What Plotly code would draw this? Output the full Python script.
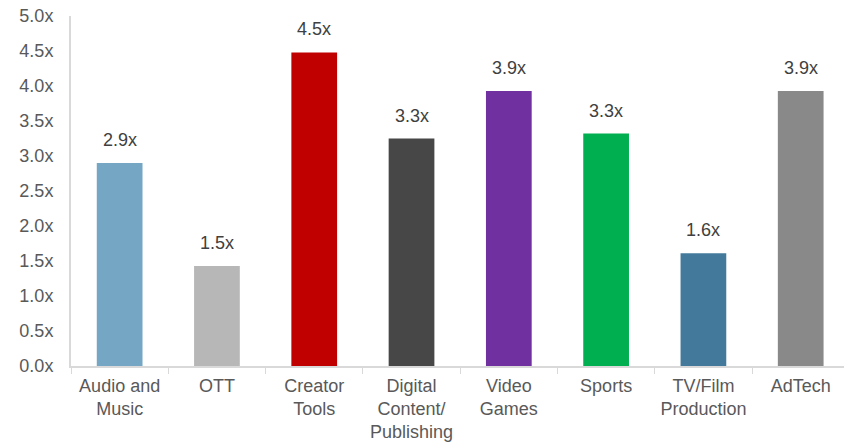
import plotly.graph_objects as go

categories = ["Audio and<br>Music", "OTT", "Creator<br>Tools", "Digital<br>Content/<br>Publishing",
              "Video<br>Games", "Sports", "TV/Film<br>Production", "AdTech"]
values = [2.90, 1.43, 4.48, 3.25, 3.93, 3.32, 1.61, 3.93]
labels = ["2.9x", "1.5x", "4.5x", "3.3x", "3.9x", "3.3x", "1.6x", "3.9x"]
colors = ["#75A6C4", "#B7B7B7", "#C00000", "#474747", "#7030A0", "#00B050", "#437A9B", "#898989"]
y_ticks = [0, 0.5, 1.0, 1.5, 2.0, 2.5, 3.0, 3.5, 4.0, 4.5, 5.0]
y_ticklabels = [f"{v:.1f}x" for v in y_ticks]

FONT = "Liberation Sans, Arial, sans-serif"

fig = go.Figure()
fig.add_trace(go.Bar(x=categories, y=values, marker=dict(color=colors, line=dict(width=0)),
                     hoverinfo="skip"))

for c, v, t in zip(categories, values, labels):
    fig.add_annotation(x=c, y=v, text=t, showarrow=False, yanchor="bottom", yshift=11,
                       font=dict(family=FONT, size=18, color="#404040"))

fig.update_layout(
    width=844, height=442,
    margin=dict(l=71, r=0, t=16, b=76),
    paper_bgcolor="white", plot_bgcolor="white",
    bargap=0.53,
    showlegend=False,
    font=dict(family=FONT, size=18, color="#595959"),
)
fig.update_xaxes(
    range=[-0.5, 7.445],
    showline=True, linecolor="#D9D9D9", linewidth=2,
    ticks="outside", tickson="boundaries", ticklen=6, tickcolor="#D9D9D9", tickwidth=1,
    showgrid=False, zeroline=False,
    ticklabelstandoff=2,
    tickfont=dict(family=FONT, size=18, color="#595959"),
)
fig.update_yaxes(
    range=[0, 5.0],
    tickvals=y_ticks, ticktext=y_ticklabels,
    showline=True, linecolor="#D9D9D9", linewidth=2,
    ticks="", showgrid=False, zeroline=False,
    ticklabelstandoff=12,
    tickfont=dict(family=FONT, size=18, color="#595959"),
)

fig.write_html("out.html")
